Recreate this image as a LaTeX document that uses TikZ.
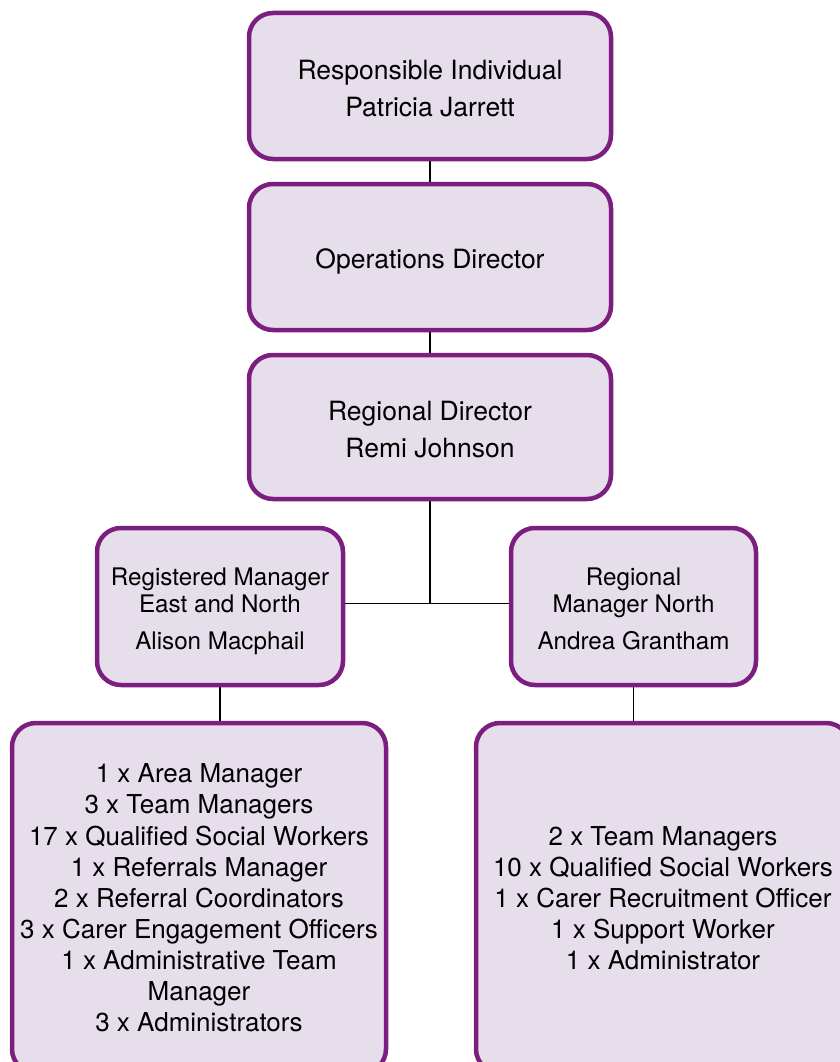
\documentclass[tikz,border=0pt]{standalone}
\usepackage{fontspec}
\setmainfont{TeX Gyre Heros}
\usetikzlibrary{backgrounds}
\definecolor{boxborder}{RGB}{124,30,128}
\definecolor{boxfill}{RGB}{230,222,235}
\begin{document}
\begin{tikzpicture}[x=1pt,y=-1pt,
  box/.style={draw=boxborder,fill=boxfill,line width=4.5pt,rounded corners=24pt,inner sep=0pt,align=center,text=black},
  bigtext/.style={font={\fontsize{26.5}{37}\selectfont}},
  bigone/.style={bigtext,text height=29pt,text depth=5.5pt},
  bigtwo/.style={bigtext,text height=61pt,text depth=0pt},
  midtext/.style={font={\fontsize{24.2}{27}\selectfont},text height=91pt,text depth=5pt},
  listtext/.style={font={\fontsize{26}{31.1}\selectfont}},
  link/.style={line width=1.3pt,black}]
\useasboundingbox (0,0) rectangle (839,1062);
\node[box,bigtwo,minimum width=362pt,minimum height=146pt] (ri) at (430,86) {Responsible Individual\\Patricia Jarrett};
\node[box,bigone,minimum width=362pt,minimum height=146pt] (od) at (430,257) {Operations Director};
\node[box,bigtwo,minimum width=362pt,minimum height=144pt] (rd) at (430,427) {Regional Director\\Remi Johnson};
\node[box,midtext,minimum width=246pt,minimum height=157pt] (rm) at (220,606.5) {Registered Manager\\East and North\\[10pt]Alison Macphail};
\node[box,midtext,minimum width=245pt,minimum height=157pt] (rn) at (633.5,606.5) {Regional\\Manager North\\[10pt]Andrea Grantham};
\node[box,listtext,minimum width=374pt,minimum height=350pt] (bl) at (199,898) {1 x Area Manager\\3 x Team Managers\\17 x Qualified Social Workers\\1 x Referrals Manager\\2 x Referral Coordinators\\3 x Carer Engagement Officers\\1 x Administrative Team\\Manager\\3 x Administrators};
\node[box,listtext,minimum width=374pt,minimum height=350pt] (br) at (663,898) {2 x Team Managers\\10 x Qualified Social Workers\\1 x Carer Recruitment Officer\\1 x Support Worker\\1 x Administrator};
\coordinate (jl) at ([yshift=3pt]rm.east);
\coordinate (jr) at ([yshift=3pt]rn.west);
\begin{scope}[on background layer]
\draw[link] (ri.south) -- (od.north);
\draw[link] (od.south) -- (rd.north);
\draw[link] (rd.south) -- (rd.south |- jl);
\draw[link] (jl) -- (jr);
\draw[link] (rm.south) -- (rm.south |- bl.north);
\draw[link] (rn.south) -- (rn.south |- br.north);
\end{scope}
\end{tikzpicture}
\end{document}
